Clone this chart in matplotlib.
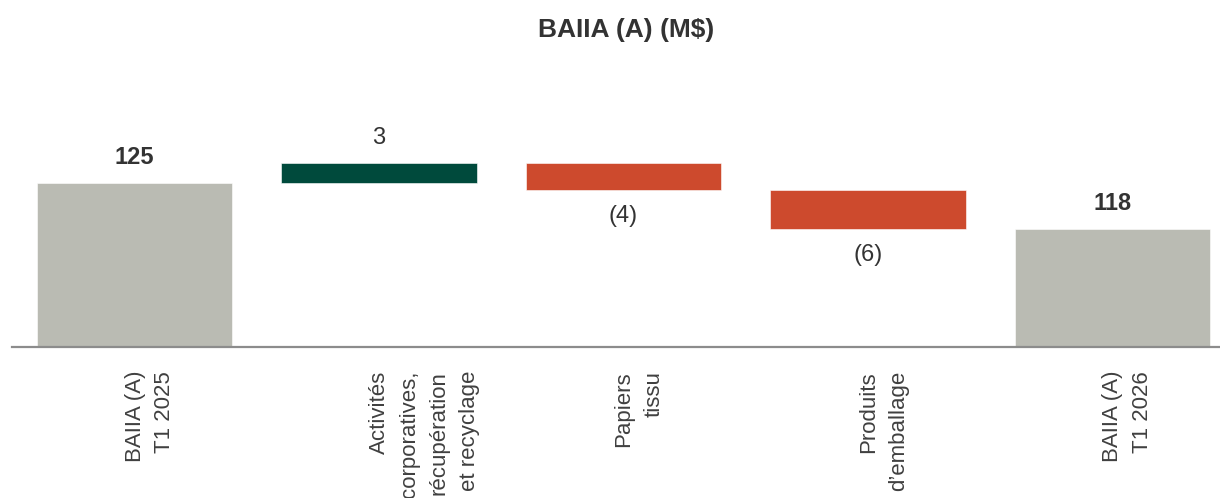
import matplotlib
matplotlib.use("Agg")
import matplotlib.pyplot as plt
import matplotlib.transforms as mtransforms
from matplotlib import font_manager

# Data (M$)
categories = [
    "BAIIA (A)\nT1 2025",
    "Activités\ncorporatives,\nrécupération\net recyclage",
    "Papiers\ntissu",
    "Produits\nd’emballage",
    "BAIIA (A)\nT1 2026",
]
start_value = 125
deltas = [3, -4, -6]
end_value = 118
title = "BAIIA (A) (M$)"

names = {f.name for f in font_manager.fontManager.ttflist}
narrow = "Liberation Sans Narrow" if "Liberation Sans Narrow" in names else "Liberation Sans"
regular = "Liberation Sans"

GREY = "#BABBB3"
GREEN = "#004A3C"
RED = "#CD4A2D"
TEXT = "#333333"

# Build waterfall geometry
bottoms, heights, colors, labels, bold = [], [], [], [], []
bottoms.append(0); heights.append(start_value); colors.append(GREY)
labels.append(f"{start_value}"); bold.append(True)
running = start_value
for d in deltas:
    if d >= 0:
        bottoms.append(running); heights.append(d); colors.append(GREEN)
        labels.append(f"{d}")
    else:
        bottoms.append(running + d); heights.append(-d); colors.append(RED)
        labels.append(f"({-d})")
    bold.append(False)
    running += d
bottoms.append(0); heights.append(end_value); colors.append(GREY)
labels.append(f"{end_value}"); bold.append(True)

fig = plt.figure(figsize=(12.2, 4.98), dpi=100)
ax = fig.add_axes([12.5 / 1220, 0.3026, 1222 / 1220, 0.4619])

x = list(range(len(categories)))
ax.bar(x, heights, bottom=bottoms, width=0.8, color=colors,
       edgecolor="white", linewidth=0.4, zorder=2)

ax.set_ylim(100, 135)
ax.set_xlim(-0.5, 4.5)

for xi, b, h, lab, bd, c in zip(x, bottoms, heights, labels, bold, colors):
    top = b + h
    if c == RED:
        ax.annotate(lab, (xi, b), xytext=(0, -11), textcoords="offset points",
                    ha="center", va="top", fontsize=17, color=TEXT,
                    family=narrow)
    else:
        ax.annotate(lab, (xi, top), xytext=(0, 10), textcoords="offset points",
                    ha="center", va="bottom", fontsize=17, color=TEXT,
                    family=narrow, fontweight="bold" if bd else "normal")

for s in ["top", "right", "left"]:
    ax.spines[s].set_visible(False)
ax.spines["bottom"].set_color("#8C8C8C")
ax.spines["bottom"].set_linewidth(1.6)
ax.set_yticks([])

# Rotated category labels: first line sits on the tick, further lines to its right
ax.set_xticks(x)
ax.set_xticklabels(categories, rotation=90, rotation_mode="anchor",
                   ha="right", va="top", multialignment="right",
                   fontsize=16, color="#404040", family=regular,
                   linespacing=1.55)
ax.tick_params(axis="x", length=0, pad=17)
shift = mtransforms.ScaledTranslation(-10 / 100, 0, fig.dpi_scale_trans)
for lbl in ax.get_xticklabels():
    lbl.set_transform(lbl.get_transform() + shift)

fig.text(626 / 1220, 1 - 30 / 498, title, ha="center", va="center", fontsize=19,
         fontweight="bold", color=TEXT, family=narrow)

fig.savefig("out.png", dpi=100, facecolor="white")
